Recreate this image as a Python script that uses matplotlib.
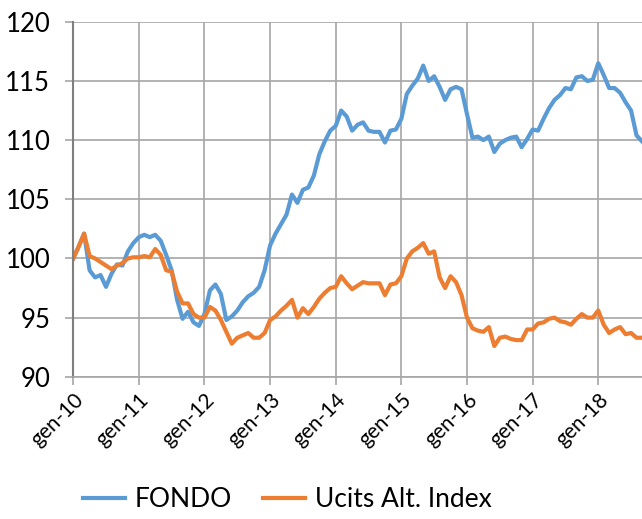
import numpy as np
import matplotlib
matplotlib.use("Agg")
import matplotlib.pyplot as plt

# monthly index values, gen-10 .. set-18
fondo = [100.0, 101.0, 102.1, 99.0, 98.4, 98.6, 97.6, 98.7, 99.5, 99.4, 100.6, 101.3,
         101.8, 102.0, 101.8, 102.0, 101.5, 100.3, 99.0, 96.5, 94.9, 95.5, 94.6, 94.3,
         95.3, 97.3, 97.8, 97.0, 94.8, 95.1, 95.6, 96.3, 96.8, 97.1, 97.6, 99.0,
         101.1, 102.1, 102.9, 103.7, 105.4, 104.7, 105.8, 106.0, 107.0, 108.8, 109.9, 110.8,
         111.2, 112.5, 112.0, 110.8, 111.3, 111.5, 110.8, 110.7, 110.7, 109.8, 110.8, 110.9,
         111.8, 113.9, 114.6, 115.2, 116.3, 115.0, 115.4, 114.5, 113.4, 114.3, 114.5, 114.3,
         112.2, 110.2, 110.3, 110.0, 110.3, 109.0, 109.7, 110.0, 110.2, 110.3, 109.4, 110.1,
         110.9, 110.8, 111.8, 112.7, 113.4, 113.8, 114.4, 114.3, 115.3, 115.4, 115.0, 115.1,
         116.5, 115.5, 114.4, 114.4, 114.0, 113.2, 112.5, 110.4, 109.9]
ucits = [100.0, 101.0, 102.1, 100.2, 100.0, 99.7, 99.4, 99.1, 99.4, 99.6, 100.0, 100.1,
         100.1, 100.2, 100.1, 100.8, 100.3, 99.0, 98.9, 97.2, 96.2, 96.2, 95.3, 95.0,
         95.0, 95.9, 95.6, 94.8, 93.8, 92.8, 93.3, 93.5, 93.7, 93.3, 93.3, 93.7,
         94.8, 95.1, 95.6, 96.0, 96.5, 95.0, 95.8, 95.3, 95.9, 96.6, 97.1, 97.5,
         97.6, 98.5, 97.9, 97.4, 97.7, 98.0, 97.9, 97.9, 97.9, 96.9, 97.8, 97.9,
         98.5, 100.0, 100.6, 100.9, 101.3, 100.4, 100.6, 98.4, 97.5, 98.5, 98.0, 96.9,
         95.0, 94.1, 93.9, 93.8, 94.2, 92.6, 93.3, 93.4, 93.2, 93.1, 93.1, 94.0,
         94.0, 94.5, 94.6, 94.9, 95.0, 94.7, 94.6, 94.4, 94.9, 95.3, 95.0, 95.0,
         95.6, 94.4, 93.7, 94.0, 94.2, 93.6, 93.7, 93.3, 93.3]
tick_labels = ["gen-10", "gen-11", "gen-12", "gen-13", "gen-14",
               "gen-15", "gen-16", "gen-17", "gen-18"]

months = np.arange(len(fondo))

fig = plt.figure(figsize=(6.42, 5.19), dpi=100)
ax = fig.add_axes([0.114, 0.274, 0.886, 0.684])

ax.plot(months, fondo, color="#5B9BD5", lw=3.0, label="FONDO", solid_joinstyle="round")
ax.plot(months, ucits, color="#ED7D31", lw=3.0, label="Ucits Alt. Index", solid_joinstyle="round")

ax.set_xlim(0, len(fondo) - 1)
ax.set_ylim(90, 120)
ax.set_yticks(np.arange(90, 121, 5))
ax.set_xticks(np.arange(0, 12 * len(tick_labels), 12))
ax.set_xticklabels(tick_labels, rotation=45, ha="right", rotation_mode="anchor",
                   fontsize=15, family="Lato")
for lab in ax.get_yticklabels():
    lab.set_fontsize(18.5)
    lab.set_family("Lato")

ax.grid(True, color="#a6a6a6", lw=1.2)
ax.set_axisbelow(True)
ax.tick_params(axis="both", color="#a6a6a6", length=5.5, width=1.2)
ax.tick_params(axis="x", pad=4)
ax.tick_params(axis="y", pad=11)
for s in ["top", "right"]:
    ax.spines[s].set_visible(False)
ax.spines["left"].set_color("#7f7f7f")
ax.spines["left"].set_linewidth(1.5)
ax.spines["bottom"].set_color("#a6a6a6")
ax.spines["bottom"].set_linewidth(1.2)

fig.legend(loc="lower center", bbox_to_anchor=(0.447, -0.032), ncol=2, frameon=False,
           prop={"family": "Lato", "size": 19}, handlelength=1.6, handletextpad=0.35,
           columnspacing=1.2)

plt.savefig("out.png", dpi=100)
